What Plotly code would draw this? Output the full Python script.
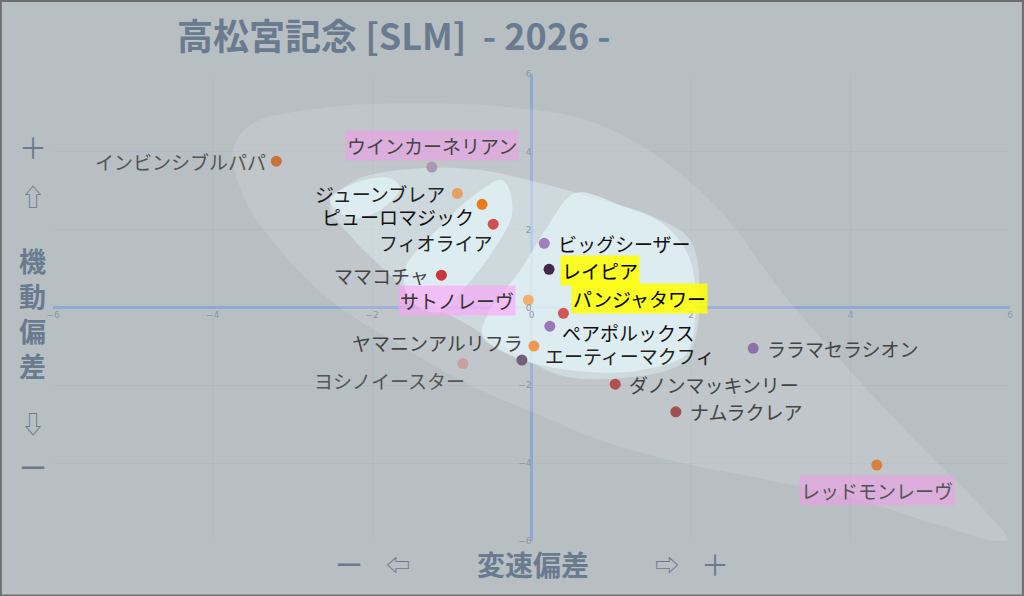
import plotly.graph_objects as go

# 馬名と座標 (変速偏差, 機動偏差)
names = ["インビンシブルパパ", "ウインカーネリアン", "ジューンブレア", "ピューロマジック",
         "フィオライア", "ママコチャ", "サトノレーヴ", "ビッグシーザー", "レイピア",
         "パンジャタワー", "ペアポルックス", "エーティーマクフィ", "ヤマニンアルリフラ",
         "ヨシノイースター", "ララマセラシオン", "ダノンマッキンリー", "ナムラクレア",
         "レッドモンレーヴ"]
hensoku = [-3.20, -1.25, -0.93, -0.62, -0.48, -1.13, -0.04, 0.16, 0.22,
           0.40, 0.23, 0.03, -0.12, -0.86, 2.78, 1.05, 1.81, 4.33]
kidou = [3.76, 3.61, 2.93, 2.65, 2.14, 0.83, 0.19, 1.65, 0.98,
         -0.15, -0.48, -0.99, -1.35, -1.44, -1.05, -1.97, -2.68, -4.05]
dot_colors = ["#c8733a", "#a898b0", "#e8a060", "#e87a20", "#d05050", "#c83838",
              "#f0b070", "#a080b8", "#402848", "#d05858", "#9878b8", "#f09850",
              "#706078", "#c8a0a0", "#9070a8", "#b05050", "#a05050", "#d88040"]

# 分布の領域 (外側・中間・内側)
outer_x = [-3.74, -3.53, -2.65, -1.40, -0.14, 0.70, 1.52, 2.36, 3.12, 3.99, 4.93, 5.62, 5.97,
           5.12, 4.12, 2.87, 1.86, 0.86, 0.11, -0.77, -1.65, -2.53, -3.15, -3.59, -3.74]
outer_y = [4.04, 4.69, 5.12, 5.25, 5.12, 4.81, 3.97, 2.50, 0.44, -1.62, -3.67, -5.08, -6.0,
           -5.60, -4.95, -4.39, -3.98, -3.41, -2.77, -2.00, -0.97, 0.19, 1.47, 2.76, 4.04]
mid_x = [-2.53, -2.21, -1.40, -0.65, 0.11, 0.86, 1.49, 1.99, 2.11, 2.03, 1.86, 1.11, 0.36,
         -0.27, -0.90, -1.40, -1.84, -2.28, -2.53]
mid_y = [2.62, 3.27, 3.58, 3.53, 3.20, 2.76, 2.37, 1.73, 0.44, -0.97, -1.48, -1.82, -1.74,
         -1.10, -0.33, 0.19, 0.96, 1.86, 2.62]
inA_x = [-2.53, -2.21, -1.77, -1.65, -1.90, -2.28, -2.53]
inA_y = [2.76, 3.20, 3.32, 3.07, 2.50, 2.30, 2.76]
inB_x = [-0.36, -0.24, -0.52, -0.87, -1.15, -1.50, -1.59, -1.21, -0.67, -0.36]
inB_y = [3.27, 2.45, 1.34, 0.44, -0.12, 0.14, 0.96, 1.94, 2.96, 3.27]
inC_x = [0.55, 1.11, 1.67, 1.99, 2.05, 1.92, 1.36, 0.73, 0.11, -0.39, -0.62, -0.52, -0.14, 0.21, 0.55]
inC_y = [2.94, 2.63, 2.12, 1.22, -0.33, -1.23, -1.61, -1.66, -1.48, -1.10, -0.71, -0.07, 0.96, 2.11, 2.94]

axis_ticks = [-6, -4, -2, 0, 2, 4, 6]

# ラベルの配置 (xanchor, xshift, yshift, 文字色, 背景色)
PINK = "rgba(245,150,240,0.5)"
PINK2 = "rgba(255,160,250,0.6)"
YEL = "rgba(255,255,0,0.85)"
label_style = [
    ("right", -8, 0, "#555555", None),
    ("center", 0, 22, "#444444", PINK),
    ("right", -10, 0, "#222222", None),
    ("right", -6, -12, "#111111", None),
    ("right", 2, -18, "#222222", None),
    ("right", -10, 0, "#444444", None),
    ("right", -12, 0, "#333333", PINK2),
    ("left", 12, 0, "#111111", None),
    ("left", 11, -1, "#000000", YEL),
    ("left", 8, 15, "#000000", YEL),
    ("left", 10, -6, "#111111", None),
    ("left", 9, -9, "#222222", None),
    ("right", 3, 18, "#444444", None),
    ("right", 4, -17, "#555555", None),
    ("left", 12, 0, "#444444", None),
    ("left", 12, 0, "#444444", None),
    ("left", 12, 0, "#444444", None),
    ("center", 0, -25, "#555555", PINK),
]

BG = "#b8bfc2"
TXT = "#6a7b90"
FONT = "Noto Sans CJK JP"

fig = go.Figure()

blobs = [
    (outer_x, outer_y, "rgba(255,255,255,0.12)"),
    (mid_x, mid_y, "rgba(225,240,248,0.45)"),
    (inA_x, inA_y, "rgba(228,244,250,0.7)"),
    (inB_x, inB_y, "rgba(228,244,250,0.7)"),
    (inC_x, inC_y, "rgba(228,244,250,0.7)"),
]
for bx, by, col in blobs:
    fig.add_trace(go.Scatter(x=bx, y=by, mode="lines", fill="toself", fillcolor=col,
                             line=dict(width=0, shape="spline", smoothing=1.0),
                             hoverinfo="skip", showlegend=False))

fig.add_trace(go.Scatter(x=hensoku, y=kidou, mode="markers", text=names,
                         marker=dict(size=11, color=dot_colors, line=dict(width=0)),
                         hoverinfo="text", showlegend=False))

for i, nm in enumerate(names):
    xa, xs, ys, tc, bg = label_style[i]
    fig.add_annotation(x=hensoku[i], y=kidou[i], text=nm, showarrow=False,
                       xanchor=xa, yanchor="middle", xshift=xs, yshift=ys,
                       font=dict(family=FONT, size=19, color=tc),
                       bgcolor=bg, borderpad=1)

# 図の外側の文字 (paper座標)
side = [
    ("<b>高松宮記念 [SLM]  - 2026 -</b>", 0.1275, 1.086, 36, "left"),
    ("＋", -0.021, 0.844, 28, "center"),
    ("⇧", -0.021, 0.739, 24, "center"),
    ("<b>機<br>動<br>偏<br>差</b>", -0.021, 0.488, 27, "center"),
    ("⇩", -0.021, 0.253, 24, "center"),
    ("ー", -0.021, 0.158, 28, "center"),
    ("ー", 0.309, -0.049, 28, "center"),
    ("⇦", 0.3605, -0.049, 24, "center"),
    ("<b>変速偏差</b>", 0.5016, -0.049, 28, "center"),
    ("⇨", 0.6416, -0.049, 24, "center"),
    ("＋", 0.6917, -0.049, 28, "center"),
]
for t, px, py, sz, xa in side:
    fig.add_annotation(x=px, y=py, xref="paper", yref="paper", text=t, showarrow=False,
                       xanchor=xa, yanchor="middle",
                       font=dict(family=FONT, size=sz, color=TXT))

axis_common = dict(range=[-6, 6], tickvals=axis_ticks, showgrid=True,
                   gridcolor="rgba(160,178,195,0.35)", gridwidth=1,
                   zeroline=True, zerolinecolor="#8fa9d0", zerolinewidth=3,
                   showline=False, ticks="", anchor="free", position=0.5,
                   tickfont=dict(family="DejaVu Sans", size=9, color="#8a97a8"),
                   fixedrange=True)

fig.update_layout(
    width=1024, height=596,
    margin=dict(l=53, r=14, t=74, b=55),
    paper_bgcolor=BG, plot_bgcolor=BG,
    xaxis=axis_common, yaxis=axis_common,
    shapes=[dict(type="rect", xref="paper", yref="paper",
                 x0=-0.0545, x1=1.0135, y0=-0.1165, y1=1.1565,
                 line=dict(color="#6e6e6e", width=2), layer="above")],
)

# ページ余白をなくす
fig.write_html("out.html", config={"displayModeBar": False},
               post_script="document.body.style.margin='0';")
